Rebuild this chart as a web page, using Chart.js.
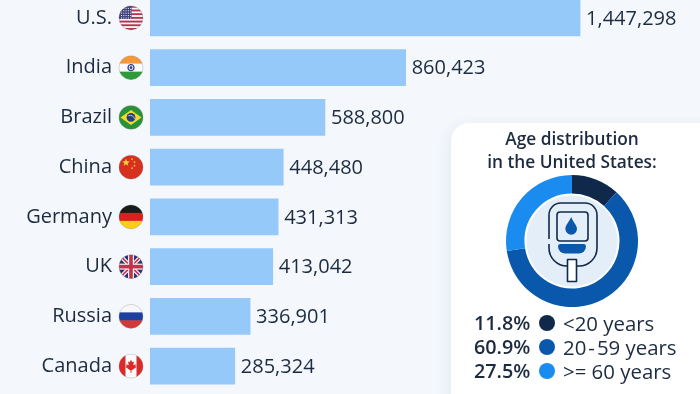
<!DOCTYPE html>
<html>
<head>
<meta charset="utf-8">
<script src="https://cdn.jsdelivr.net/npm/chart.js@4"></script>
<style>
html,body{margin:0;padding:0;width:700px;height:394px;overflow:hidden;background:#f4f7fb;font-family:"Open Sans",sans-serif;color:#1c2b3f}
#barWrap{position:absolute;left:0;top:-8px;width:700px;height:400px}
#panel{position:absolute;left:451px;top:123px;width:320px;height:320px;background:#fff;border-radius:18px;box-shadow:-4px 2px 12px rgba(60,110,180,.07)}
#ringWrap{position:absolute;left:502px;top:171px;width:140px;height:140px}
.t{position:absolute;white-space:nowrap}
.title{left:452px;width:240px;text-align:center;font-size:17.3px;font-weight:600;line-height:23px}
.pct{font-size:19.8px;font-weight:600;line-height:24px;left:474px}
.lab{font-size:20.4px;line-height:24px;left:563px}
.hy{margin:0 2px}
.dot{position:absolute;left:539px;width:16px;height:16px;border-radius:50%}
</style>
</head>
<body>
<div id="barWrap"><canvas id="bars"></canvas></div>
<div id="panel"></div>
<div class="t title" style="top:127px">Age distribution</div>
<div class="t title" style="top:150px">in the United States:</div>
<div id="ringWrap"><canvas id="ring"></canvas></div>
<div id="legend"></div>
<script>
const countries = ["U.S.","India","Brazil","China","Germany","UK","Russia","Canada"];
const cases = [1447298,860423,588800,448480,431313,413042,336901,285324];
const ageGroups = ["<20 years","20-59 years",">= 60 years"];
const ageShares = [11.8,60.9,27.5];
const ageColors = ["#10294a","#0a58ab","#1a8cf0"];
const barColor = "#94c9fa";
const ink = "#1c2b3f";
const axisMax = 1851000;

function stripes(c,r,cols){const h=2*r/cols.length;cols.forEach((k,i)=>{c.fillStyle=k;c.fillRect(-r,-r+i*h,2*r,h+.5);});}
function star(c,x,y,s,col){c.fillStyle=col;c.beginPath();for(let i=0;i<10;i++){const a=-Math.PI/2+i*Math.PI/5,q=i%2?s*.42:s;c.lineTo(x+q*Math.cos(a),y+q*Math.sin(a));}c.closePath();c.fill();}
const flags = {
 "U.S.":(c,r)=>{const cols=[];for(let i=0;i<13;i++)cols.push(i%2?"#f4f4f6":"#b5304a");stripes(c,r,cols);c.fillStyle="#41407e";c.fillRect(-r,-r,r*1.05,r*1.08);c.fillStyle="#fff";for(let a=0;a<5;a++)for(let b=0;b<5;b++){c.fillRect(-r+2+b*2.3,-r+2+a*2.4,1,1);}},
 "India":(c,r)=>{stripes(c,r,["#f5983a","#fafafa","#2f9a3a"]);c.strokeStyle="#2d3a8c";c.lineWidth=1.2;c.beginPath();c.arc(0,0,3,0,7);c.stroke();c.fillStyle="#2d3a8c";c.beginPath();c.arc(0,0,1.4,0,7);c.fill();},
 "Brazil":(c,r)=>{c.fillStyle="#27923a";c.fillRect(-r,-r,2*r,2*r);c.fillStyle="#f7d92a";c.beginPath();c.moveTo(-10.5,0);c.lineTo(0,-7.5);c.lineTo(10.5,0);c.lineTo(0,7.5);c.closePath();c.fill();c.fillStyle="#21407f";c.beginPath();c.arc(0,0,4.4,0,7);c.fill();c.strokeStyle="#dfe8ee";c.lineWidth=.8;c.beginPath();c.arc(-1,3,5,-1.9,-.3);c.stroke();},
 "China":(c,r)=>{c.fillStyle="#d7301f";c.fillRect(-r,-r,2*r,2*r);star(c,-5,-4.5,4,"#f8d23a");[[1,-8],[3.5,-5],[3.5,-1.5],[1,1]].forEach(p=>star(c,p[0],p[1],1.4,"#f8d23a"));},
 "Germany":(c,r)=>stripes(c,r,["#1a1a1a","#d8201f","#fbcd14"]),
 "UK":(c,r)=>{c.fillStyle="#27356f";c.fillRect(-r,-r,2*r,2*r);c.lineCap="butt";c.strokeStyle="#f2f2f4";c.lineWidth=4;c.beginPath();c.moveTo(-r,-r);c.lineTo(r,r);c.moveTo(r,-r);c.lineTo(-r,r);c.stroke();c.strokeStyle="#c5314a";c.lineWidth=1.5;c.stroke();c.fillStyle="#f2f2f4";c.fillRect(-r,-3,2*r,6);c.fillRect(-3,-r,6,2*r);c.fillStyle="#c5314a";c.fillRect(-r,-1.8,2*r,3.6);c.fillRect(-1.8,-r,3.6,2*r);},
 "Russia":(c,r)=>stripes(c,r,["#f7f7f9","#1d3f9e","#d23a3a"]),
 "Canada":(c,r)=>{c.fillStyle="#fbfbfb";c.fillRect(-r,-r,2*r,2*r);c.fillStyle="#dc2a2a";c.fillRect(-r,-r,6.5,2*r);c.fillRect(r-6.5,-r,6.5,2*r);c.beginPath();[[0,-6.5],[1.4,-3.8],[3,-4.6],[2.3,-1],[5,-2],[4.4,0],[5.4,.8],[1,4],[.5,3.5],[.5,6.5],[-.5,6.5],[-.5,3.5],[-1,4],[-5.4,.8],[-4.4,0],[-5,-2],[-2.3,-1],[-3,-4.6],[-1.4,-3.8]].forEach(p=>c.lineTo(p[0],p[1]));c.closePath();c.fill();}
};

const decorate = {
 id:"decorate",
 afterDatasetsDraw(chart){
  const c=chart.ctx,x=chart.scales.x,y=chart.scales.y,r=12,fx=131;
  c.save();
  c.font='20px "Open Sans"';c.fillStyle=ink;c.textAlign="left";c.textBaseline="middle";
  cases.forEach((v,i)=>c.fillText(v.toLocaleString("en-US"),x.getPixelForValue(v)+6,y.getPixelForValue(i)+1));
  countries.forEach((n,i)=>{
   const py=y.getPixelForValue(i);
   c.save();c.translate(fx,py);c.beginPath();c.arc(0,0,r,0,Math.PI*2);c.clip();flags[n](c,r);c.restore();
   c.save();c.translate(fx,py);c.beginPath();c.arc(0,0,r,0,Math.PI*2);c.strokeStyle="rgba(120,120,130,.35)";c.lineWidth=.8;c.stroke();c.restore();
  });
  c.restore();
 }
};

new Chart(document.getElementById("bars"),{
 type:"bar",
 data:{labels:countries,datasets:[{data:cases,backgroundColor:barColor,barThickness:36,borderWidth:0}]},
 options:{
  indexAxis:"y",responsive:true,maintainAspectRatio:false,animation:false,
  layout:{padding:{top:1,bottom:1,left:0,right:0}},
  plugins:{legend:{display:false},tooltip:{enabled:false}},
  scales:{
   x:{display:false,min:0,max:axisMax},
   y:{afterFit(s){s.width=150;s.paddingTop=0;s.paddingBottom=0;},
      grid:{drawOnChartArea:false,drawTicks:true,tickLength:38,color:"transparent"},border:{display:false},
      ticks:{color:ink,padding:0,font:{family:"Open Sans",size:20}}}
  }
 },
 plugins:[decorate]
});

const meter = {
 id:"meter",
 beforeDatasetsDraw(chart){
  const c=chart.ctx,m=chart.getDatasetMeta(0).data[0],cx=m.x,cy=m.y;
  c.save();c.translate(cx,cy);
  c.fillStyle="#e4eef9";c.beginPath();c.arc(0,0,45.5,0,Math.PI*2);c.fill();
  c.strokeStyle=ageColors[0];c.lineWidth=1.6;c.lineJoin="round";
  c.beginPath();c.moveTo(-23,-2);c.lineTo(-23,-26);c.arcTo(-23,-38,-11,-38,12);c.lineTo(13,-38);c.arcTo(25,-38,25,-26,12);c.lineTo(25,7);c.arcTo(25,25,7,25,18);c.lineTo(-5,25);c.arcTo(-23,25,-23,7,18);c.lineTo(-23,3);c.stroke();
  c.beginPath();c.roundRect(-15,-29,31,29,3);c.fillStyle="#e4eef9";c.fill();c.stroke();
  c.fillStyle=ageColors[1];c.beginPath();c.moveTo(-.8,-24);c.bezierCurveTo(1,-19,5,-16,5,-12);c.arc(-.8,-12,5.8,0,Math.PI);c.bezierCurveTo(-6.6,-16,-3,-19,-.8,-24);c.fill();
  c.beginPath();c.roundRect(-14,3,28,9.5,[3,3,9,9]);c.fill();
  c.fillStyle="#fff";c.beginPath();c.rect(-4.5,18.5,9,22);c.fill();c.stroke();
  c.restore();
 }
};
new Chart(document.getElementById("ring"),{
 type:"doughnut",
 data:{labels:ageGroups,datasets:[{data:ageShares,backgroundColor:ageColors,borderWidth:0}]},
 options:{responsive:true,maintainAspectRatio:false,animation:false,cutout:"72%",layout:{padding:4},
  plugins:{legend:{display:false},tooltip:{enabled:false}}},
 plugins:[meter]
});

const legend=document.getElementById("legend");
ageGroups.forEach((g,i)=>{
 const top=311+i*24;
 const p=document.createElement("div");p.className="t pct";p.style.top=top+"px";p.textContent=ageShares[i].toFixed(1)+"%";
 const d=document.createElement("div");d.className="dot";d.style.top=(top+4)+"px";d.style.background=ageColors[i];
 const l=document.createElement("div");l.className="t lab";l.style.top=top+"px";
 const parts=g.split("-");
 parts.forEach((part,k)=>{
  if(k>0){const h=document.createElement("span");h.className="hy";h.textContent="-";l.append(h);}
  l.append(part);
 });
 legend.append(p,d,l);
});
</script>
</body>
</html>
